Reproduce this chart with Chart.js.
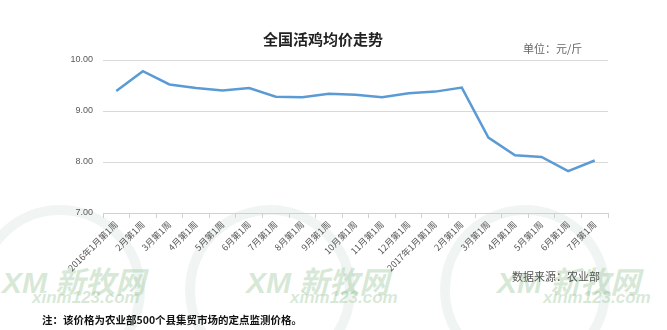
<!DOCTYPE html>
<html><head><meta charset="utf-8">
<script src="https://cdn.jsdelivr.net/npm/chart.js@4.4.0/dist/chart.umd.min.js"></script>
<style>
html,body{margin:0;padding:0;background:#fff;}
#wrap{position:relative;width:667px;height:330px;overflow:hidden;font-family:"Noto Sans CJK SC","Noto Sans",sans-serif;}
canvas{position:absolute;left:0;top:0;}
.t{position:absolute;white-space:nowrap;}
.wm{position:absolute;white-space:nowrap;color:rgba(140,190,140,0.35);font-style:italic;font-weight:bold;font-family:"Liberation Sans","Noto Sans CJK SC",sans-serif;}
.ring{position:absolute;border-radius:50%;border:10px solid rgba(170,200,190,0.18);}
</style></head>
<body><div id="wrap">
<div class="ring" style="left:-25px;top:205px;width:150px;height:150px;"></div>
<div class="ring" style="left:185px;top:205px;width:150px;height:150px;"></div>
<div class="ring" style="left:440px;top:205px;width:150px;height:150px;"></div>
<div class="wm" style="left:2px;top:258px;font-size:30px;">XM 新牧网</div>
<div class="wm" style="left:32px;top:288px;font-size:17px;">xinm123.com</div>
<div class="wm" style="left:246px;top:258px;font-size:30px;">XM 新牧网</div>
<div class="wm" style="left:290px;top:288px;font-size:17px;">xinm123.com</div>
<div class="wm" style="left:497px;top:258px;font-size:30px;">XM 新牧网</div>
<div class="wm" style="left:543px;top:288px;font-size:17px;">xinm123.com</div>
<canvas id="c" width="667" height="330"></canvas>
<div class="t" style="left:263px;top:28px;font-size:15px;font-weight:bold;color:#222;">全国活鸡均价走势</div>
<div class="t" style="left:523px;top:40px;font-size:11px;color:#666;">单位：元/斤</div>
<div class="t" style="left:512px;top:268px;font-size:11px;color:#555;">数据来源：农业部</div>
<div class="t" style="left:42px;top:312px;font-size:10.5px;font-weight:bold;color:#111;">注：该价格为农业部500个县集贸市场的定点监测价格。</div>
</div>
<script>
const categories = ["2016年1月第1周","2月第1周","3月第1周","4月第1周","5月第1周","6月第1周","7月第1周","8月第1周","9月第1周","10月第1周","11月第1周","12月第1周","2017年1月第1周","2月第1周","3月第1周","4月第1周","5月第1周","6月第1周","7月第1周"];
const prices = [9.39, 9.78, 9.52, 9.45, 9.40, 9.45, 9.28, 9.27, 9.34, 9.32, 9.27, 9.35, 9.38, 9.46, 8.48, 8.13, 8.10, 7.82, 8.03];
const yTicks = [7, 8, 9, 10];

new Chart(document.getElementById('c'), {
  type: 'line',
  data: { labels: categories, datasets: [{ data: prices, borderColor: '#5b9bd5', borderWidth: 2.5, pointRadius: 0, tension: 0, fill: false }] },
  options: {
    responsive: false, animation: false,
    layout: { padding: { top: 60, right: 59, left: 0, bottom: 0 } },
    plugins: { legend: { display: false }, tooltip: { enabled: false } },
    scales: {
      x: {
        offset: true,
        grid: { offset: true, drawOnChartArea: false, drawTicks: true, tickLength: 5, color: '#d0d0d0' },
        border: { display: true, color: '#d0d0d0' },
        ticks: { minRotation: 45, maxRotation: 45, autoSkip: false, color: '#595959', padding: 1, font: { size: 9, family: '"Noto Sans CJK SC", sans-serif' } },
        afterFit: s => { s.height = 117; }
      },
      y: {
        min: 7, max: 10,
        afterBuildTicks: s => { s.ticks = yTicks.map(v => ({ value: v })); },
        grid: { drawTicks: false, color: '#d9d9d9' },
        border: { display: false },
        ticks: { padding: 10, color: '#595959', font: { size: 9, family: '"Liberation Sans", sans-serif' }, callback: v => v.toFixed(2) },
        afterFit: s => { s.width = 103; }
      }
    }
  }
});
</script>
</body></html>
